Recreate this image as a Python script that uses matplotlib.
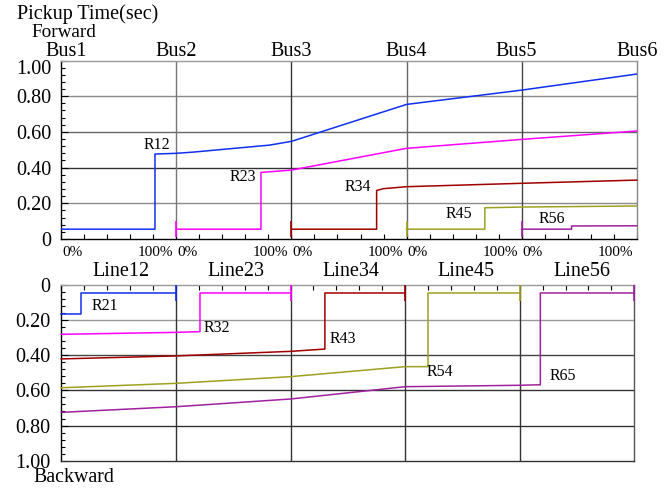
import numpy as np
import matplotlib
matplotlib.use("Agg")
import matplotlib.pyplot as plt
from matplotlib.transforms import blended_transform_factory

plt.rcParams['font.family'] = ['Liberation Serif', 'DejaVu Serif']

# ---------------- data ----------------
bus_labels = ["Bus1", "Bus2", "Bus3", "Bus4", "Bus5", "Bus6"]
line_labels = ["Line12", "Line23", "Line34", "Line45", "Line56"]
ytick_vals = [0, 0.2, 0.4, 0.6, 0.8, 1.0]
ytick_labels = ["0", "0.20", "0.40", "0.60", "0.80", "1.00"]

# forward relays (top panel)
R12_x = [0, 0.814, 0.814, 1.0, 1.15, 1.81, 2.0, 3.0, 4.0, 5.0]
R12_y = [0.055, 0.055, 0.476, 0.48, 0.487, 0.526, 0.547, 0.754, 0.834, 0.924]
R23_x = [1.0, 1.735, 1.735, 2.0, 3.0, 4.0, 5.0]
R23_y = [0.055, 0.055, 0.373, 0.386, 0.508, 0.558, 0.605]
R34_x = [2.0, 2.74, 2.74, 2.80, 3.0, 4.0, 5.0]
R34_y = [0.055, 0.055, 0.272, 0.282, 0.293, 0.312, 0.330]
R45_x = [3.0, 3.68, 3.68, 4.0, 5.0]
R45_y = [0.055, 0.055, 0.175, 0.179, 0.185]
R56_x = [4.0, 4.434, 4.434, 5.0]
R56_y = [0.055, 0.055, 0.073, 0.074]

# backward relays (bottom panel)
R21_x = [0, 0.175, 0.175, 1.0]
R21_y = [0.166, 0.166, 0.046, 0.046]
R32_x = [0, 1.0, 1.21, 1.21, 2.0]
R32_y = [0.281, 0.270, 0.266, 0.046, 0.046]
R43_x = [0, 1.0, 2.0, 2.30, 2.30, 3.0]
R43_y = [0.421, 0.404, 0.378, 0.365, 0.046, 0.046]
R54_x = [0, 1.0, 2.0, 3.0, 3.2, 3.2, 4.0]
R54_y = [0.585, 0.560, 0.522, 0.465, 0.465, 0.046, 0.046]
R65_x = [0, 1.0, 2.0, 3.0, 4.0, 4.18, 4.18, 5.0]
R65_y = [0.725, 0.693, 0.649, 0.579, 0.571, 0.568, 0.046, 0.046]

C_BLUE = "#1030f0"
C_MAG = "#ff00ff"
C_RED = "#a00000"
C_OLV = "#a0a020"
C_PUR = "#a020a0"

W, H = 672, 488
fig = plt.figure(figsize=(W / 100, H / 100), dpi=100)


def px_rect(l, t, r, b):
    return [l / W, 1 - b / H, (r - l) / W, (b - t) / H]


ax1 = fig.add_axes(px_rect(61.3, 60.5, 636.7, 239.0))
ax2 = fig.add_axes(px_rect(61.3, 284.9, 634.3, 460.7))

LW = 1.1
FS_BIG = 14.5
FS_R = 11.5
FS_PCT = 11

# ---------------- top panel ----------------
ax1.set_xlim(0, 5)
ax1.set_ylim(0, 1)
for yv, col in zip([0.2, 0.4, 0.6, 0.8], ["#8a8a8a", "#333333", "#666666", "#8a8a8a"]):
    ax1.axhline(yv, color=col, lw=1.0, zorder=1)
for xv, col in zip([1, 2, 3, 4], ["#777777", "#333333", "#666666", "#444444"]):
    ax1.axvline(xv, color=col, lw=1.0, zorder=1)

ax1.plot(R12_x, R12_y, color=C_BLUE, lw=LW, zorder=3)
for xs, ys, c in [(R23_x, R23_y, C_MAG), (R34_x, R34_y, C_RED),
                  (R45_x, R45_y, C_OLV), (R56_x, R56_y, C_PUR)]:
    ax1.plot(xs, ys, color=c, lw=LW, marker='|', markevery=[0],
             markersize=11, markeredgewidth=1.2, zorder=3, clip_on=False)

for txt, x, y in [("R12", 0.829, 0.526), ("R23", 1.58, 0.349), ("R34", 2.576, 0.291),
                  ("R45", 3.453, 0.140), ("R56", 4.263, 0.112)]:
    ax1.text(x, y, txt, fontsize=FS_R, ha='center', va='center', zorder=4)

ax1.set_yticks(ytick_vals)
ax1.set_yticklabels(ytick_labels, fontsize=FS_BIG)
ax1.yaxis.get_major_ticks()[-1].label1.set_verticalalignment('top')
ax1.set_yticks(np.arange(0, 1.001, 0.04), minor=True)
ax1.set_xticks([])
ax1.set_xticks(np.arange(0, 5.001, 0.2), minor=True)
ax1.tick_params(axis='y', which='major', direction='in', length=5, pad=7, width=0.8)
ax1.tick_params(axis='y', which='minor', direction='in', length=3, width=0.8)
ax1.tick_params(axis='x', which='minor', direction='in', length=3.5, width=0.8)
ax1.spines['top'].set_color("#999999")
ax1.spines['right'].set_color("#888888")
for s in ax1.spines.values():
    s.set_linewidth(1.0)

# ---------------- bottom panel ----------------
ax2.set_xlim(0, 5)
ax2.set_ylim(1, 0)
for yv, col in zip([0.2, 0.4, 0.6, 0.8], ["#999999", "#444444", "#333333", "#333333"]):
    ax2.axhline(yv, color=col, lw=1.0, zorder=1)
for xv in [1, 2, 3, 4]:
    ax2.axvline(xv, color="#333333", lw=1.0, zorder=1)

for xs, ys, c in [(R21_x, R21_y, C_BLUE), (R32_x, R32_y, C_MAG), (R43_x, R43_y, C_RED),
                  (R54_x, R54_y, C_OLV), (R65_x, R65_y, C_PUR)]:
    ax2.plot(xs, ys, color=c, lw=LW, marker='|', markevery=[len(xs) - 1],
             markersize=12, markeredgewidth=1.2, zorder=3, clip_on=False)

for txt, x, y in [("R21", 0.381, 0.119), ("R32", 1.356, 0.245), ("R43", 2.458, 0.308),
                  ("R54", 3.307, 0.494), ("R65", 4.376, 0.521)]:
    ax2.text(x, y, txt, fontsize=FS_R, ha='center', va='center', zorder=4)

ax2.set_yticks(ytick_vals)
ax2.set_yticklabels(ytick_labels, fontsize=FS_BIG)
ax2.set_yticks(np.arange(0, 1.001, 0.04), minor=True)
ax2.xaxis.tick_top()
ax2.set_xticks([])
ax2.set_xticks(np.arange(0, 5.001, 0.2), minor=True)
ax2.tick_params(axis='y', which='major', direction='in', length=5, pad=8, width=0.8)
ax2.tick_params(axis='y', which='minor', direction='in', length=3, width=0.8)
ax2.tick_params(axis='x', which='minor', direction='in', length=3.5, width=0.8,
                top=True, bottom=False)
ax2.spines['top'].set_color("#999999")
ax2.spines['right'].set_color("#555555")
ax2.spines['bottom'].set_color("#333333")
for s in ax2.spines.values():
    s.set_linewidth(1.0)

# ---------------- surrounding texts ----------------
def fy(py):
    return 1 - py / H


fig.text(17 / W, fy(19.5), "Pickup Time(sec)", fontsize=14.5, ha='left', va='baseline')
fig.text(31.7 / W, fy(37), "Forward", fontsize=13.8, ha='left', va='baseline')
fig.text(33 / W, fy(481.5), "Backward", fontsize=14.3, ha='left', va='baseline')

tb1 = blended_transform_factory(ax1.transData, fig.transFigure)
for i, lab in enumerate(bus_labels):
    dx = 0.04 if i == 0 else (-0.05 if i == 4 else 0)
    ax1.text(i + dx, fy(55.5), lab, fontsize=FS_BIG, ha='center', va='baseline',
             transform=tb1, clip_on=False)

for i, lab in enumerate(line_labels):
    ax1.text(i + 0.52, fy(275.7), lab, fontsize=FS_BIG, ha='center', va='baseline',
             transform=tb1, clip_on=False)

for i in range(5):
    ax1.text(i + 0.005, fy(256), "0%", fontsize=FS_PCT, ha='left', va='baseline',
             transform=tb1, clip_on=False)
    ax1.text(i + 0.97, fy(256), "100%", fontsize=FS_PCT, ha='right', va='baseline',
             transform=tb1, clip_on=False)

fig.savefig("out.png", dpi=100)
